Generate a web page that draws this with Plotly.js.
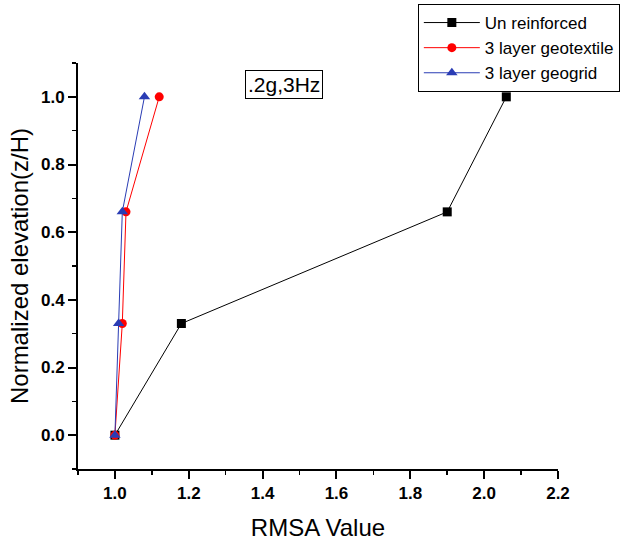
<!DOCTYPE html>
<html>
<head>
<meta charset="utf-8">
<script src="https://cdn.plot.ly/plotly-3.0.1.min.js"></script>
<style>html,body{margin:0;padding:0;background:#fff;}#chart{width:640px;height:554px;}</style>
</head>
<body>
<div id="chart"></div>
<script>
const elevation = [0, 0.33, 0.66, 1.0];
const unreinforced = [1.0, 1.18, 1.90, 2.06];
const geotextile = [1.0, 1.02, 1.03, 1.12];
const geogrid = [1.0, 1.01, 1.02, 1.08];
const seriesNames = ['Un reinforced', '3 layer geotextile', '3 layer geogrid'];
const noteText = '.2g,3Hz';

const traces = [
  {x: unreinforced, y: elevation, name: seriesNames[0], mode: 'lines+markers',
   line: {color: '#000000', width: 1}, marker: {symbol: 'square', size: 9, color: '#000000'}},
  {x: geotextile, y: elevation, name: seriesNames[1], mode: 'lines+markers',
   line: {color: '#ff0000', width: 1}, marker: {symbol: 'circle', size: 9, color: '#ff0000'}},
  {x: geogrid, y: elevation, name: seriesNames[2], mode: 'lines+markers',
   line: {color: '#2a3cb4', width: 1}, marker: {symbol: 'triangle-up', size: 10, color: '#2a3cb4'}}
];

const FONT = 'Arial, "Liberation Sans", sans-serif';
const axisCommon = {
  showline: true, linecolor: '#000', linewidth: 2, showgrid: false, zeroline: false,
  ticks: 'outside', ticklen: 8, tickwidth: 2, tickcolor: '#000',
  tickfont: {family: FONT, size: 17, color: '#000', weight: 'bold'},
  minor: {ticks: 'outside', ticklen: 4, tickwidth: 1.5, tickcolor: '#000', dtick: 0.1, showgrid: false}
};

const layout = {
  width: 640, height: 554,
  margin: {l: 78, r: 82, t: 63, b: 85, autoexpand: false},
  paper_bgcolor: '#fff', plot_bgcolor: '#fff',
  font: {family: FONT, color: '#000'},
  showlegend: true,
  legend: {x: 0.708, y: 1.1453, xanchor: 'left', yanchor: 'top',
    bordercolor: '#000', borderwidth: 1, bgcolor: '#fff',
    font: {size: 17, family: FONT},
    tracegroupgap: 0, itemwidth: 56},
  xaxis: Object.assign({}, axisCommon, {
    range: [0.9, 2.2], dtick: 0.2, tick0: 1.0, tickformat: '.1f',
    title: {text: 'RMSA Value', font: {size: 24}, standoff: 17}
  }),
  yaxis: Object.assign({}, axisCommon, {
    range: [-0.1, 1.1], dtick: 0.2, tick0: 0, tickformat: '.1f',
    title: {text: 'Normalized elevation(z/H)', font: {size: 24}, standoff: 6}
  }),
  annotations: [{
    xref: 'paper', yref: 'paper', x: 0.43, y: 0.947, xanchor: 'center', yanchor: 'middle',
    text: noteText, showarrow: false, font: {size: 21},
    bordercolor: '#000', borderwidth: 1, borderpad: 2, bgcolor: '#fff'
  }]
};

Plotly.newPlot('chart', traces, layout, {displayModeBar: false, staticPlot: true});
</script>
</body>
</html>
